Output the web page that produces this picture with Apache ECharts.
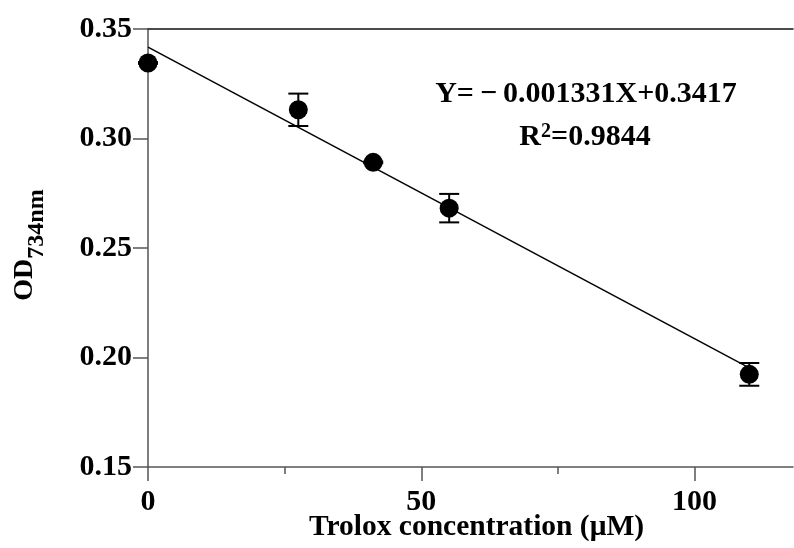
<!DOCTYPE html>
<html>
<head>
<meta charset="utf-8">
<script src="https://cdn.jsdelivr.net/npm/echarts@6/dist/echarts.min.js"></script>
<style>
  html, body { margin: 0; padding: 0; background: #fff; }
  #chart { width: 794px; height: 548px; }
</style>
</head>
<body>
<div id="chart"></div>
<script>
// Trolox standard curve, OD at 734 nm
const concentration = [0, 27.5, 41.2, 55.1, 110];
const odMean = [0.3345, 0.3131, 0.2891, 0.2682, 0.1923];
const odSd = [0.0004, 0.0074, 0.0004, 0.0065, 0.0052];
// regression line end points (Y = -0.001331X + 0.3417)
const fitX = [0, 110];
const fitY = [0.3417, 0.1953];
const xMajorTicks = [0, 50, 100];
const xMinorTicks = [25, 75];
const equationText = 'Y=\u2009\u2212\u20090.001331X+0.3417';
const r2Text = '0.9844';

const font = "'Liberation Serif', 'Times New Roman', serif";
const axisColor = '#555';

const chart = echarts.init(document.getElementById('chart'));

const xBase = {
  type: 'value',
  min: 0,
  max: 118,
  splitLine: { show: false },
  gridIndex: 0
};

const option = {
  animation: false,
  backgroundColor: '#fff',
  grid: { left: 148, top: 29, right: 1, bottom: 81, containLabel: false, outerBoundsMode: 'none' },
  xAxis: [
    Object.assign({}, xBase, {
      position: 'bottom',
      axisLine: { show: true, lineStyle: { color: axisColor, width: 1.5 } },
      axisTick: { show: true, length: 14, customValues: xMajorTicks, lineStyle: { color: axisColor, width: 1.5 } },
      axisLabel: {
        customValues: xMajorTicks, margin: 20,
        color: '#000', fontFamily: font, fontWeight: 'bold', fontSize: 30
      },
      name: 'Trolox concentration (\u03bcM)',
      nameLocation: 'middle',
      nameGap: 45,
      nameMoveOverlap: false,
      nameTextStyle: { color: '#000', fontFamily: font, fontWeight: 'bold', fontSize: 29.5, padding: [0, 0, 0, 12] }
    }),
    Object.assign({}, xBase, {
      position: 'bottom',
      axisLine: { show: false },
      axisTick: { show: true, length: 7, customValues: xMinorTicks, lineStyle: { color: axisColor, width: 1.5 } },
      axisLabel: { show: false }
    }),
    Object.assign({}, xBase, {
      position: 'top',
      axisLine: { show: true, lineStyle: { color: '#111', width: 1.5 } },
      axisTick: { show: false },
      axisLabel: { show: false }
    })
  ],
  yAxis: {
    type: 'value',
    min: 0.15,
    max: 0.35,
    interval: 0.05,
    splitLine: { show: false },
    axisLine: { show: true, lineStyle: { color: axisColor, width: 1.5 } },
    axisTick: { show: true, length: 15, lineStyle: { color: axisColor, width: 1.5 } },
    axisLabel: {
      margin: 16,
      color: '#000', fontFamily: font, fontWeight: 'bold', fontSize: 30,
      formatter: v => v.toFixed(2)
    },
    name: '{a|OD}{b|734nm}',
    nameLocation: 'middle',
    nameRotate: 90,
    nameGap: 109,
    nameMoveOverlap: false,
    nameTextStyle: {
      color: '#000',
      padding: [0, 0, 0, 6],
      rich: {
        a: { fontFamily: font, fontWeight: 'bold', fontSize: 28, lineHeight: 28, verticalAlign: 'top' },
        b: { fontFamily: font, fontWeight: 'bold', fontSize: 24, lineHeight: 24, verticalAlign: 'top', padding: [14, 0, 0, 0] }
      }
    }
  },
  series: [
    {
      name: 'fit',
      type: 'line',
      xAxisIndex: 0,
      data: fitX.map((x, i) => [x, fitY[i]]),
      showSymbol: false,
      symbol: 'none',
      lineStyle: { color: '#000', width: 1.5 },
      z: 2
    },
    {
      name: 'error',
      type: 'custom',
      xAxisIndex: 0,
      data: concentration.map((x, i) => [x, odMean[i] - odSd[i], odMean[i] + odSd[i]]),
      renderItem: function (params, api) {
        const lo = api.coord([api.value(0), api.value(1)]);
        const hi = api.coord([api.value(0), api.value(2)]);
        const half = 10;
        const style = { stroke: '#000', lineWidth: 2 };
        return {
          type: 'group',
          children: [
            { type: 'line', shape: { x1: lo[0], y1: lo[1], x2: hi[0], y2: hi[1] }, style: style },
            { type: 'line', shape: { x1: lo[0] - half, y1: lo[1], x2: lo[0] + half, y2: lo[1] }, style: style },
            { type: 'line', shape: { x1: hi[0] - half, y1: hi[1], x2: hi[0] + half, y2: hi[1] }, style: style }
          ]
        };
      },
      z: 3
    },
    {
      name: 'OD',
      type: 'scatter',
      xAxisIndex: 0,
      data: concentration.map((x, i) => [x, odMean[i]]),
      symbol: 'circle',
      symbolSize: 19,
      itemStyle: { color: '#000', opacity: 1 },
      z: 4
    }
  ],
  graphic: [
    {
      type: 'text',
      x: 586, y: 94,
      style: {
        text: equationText,
        fontFamily: font, fontWeight: 'bold', fontSize: 30,
        fill: '#000', align: 'center', verticalAlign: 'middle'
      }
    },
    {
      type: 'text',
      x: 585, y: 137,
      style: {
        text: '{r|R}{s|2}{r|=' + r2Text + '}',
        align: 'center', verticalAlign: 'middle',
        rich: {
          r: { fontFamily: font, fontWeight: 'bold', fontSize: 30, lineHeight: 30, fill: '#000', verticalAlign: 'top' },
          s: { fontFamily: font, fontWeight: 'bold', fontSize: 20, lineHeight: 20, fill: '#000', verticalAlign: 'top' }
        }
      }
    }
  ]
};

chart.setOption(option);
</script>
</body>
</html>
